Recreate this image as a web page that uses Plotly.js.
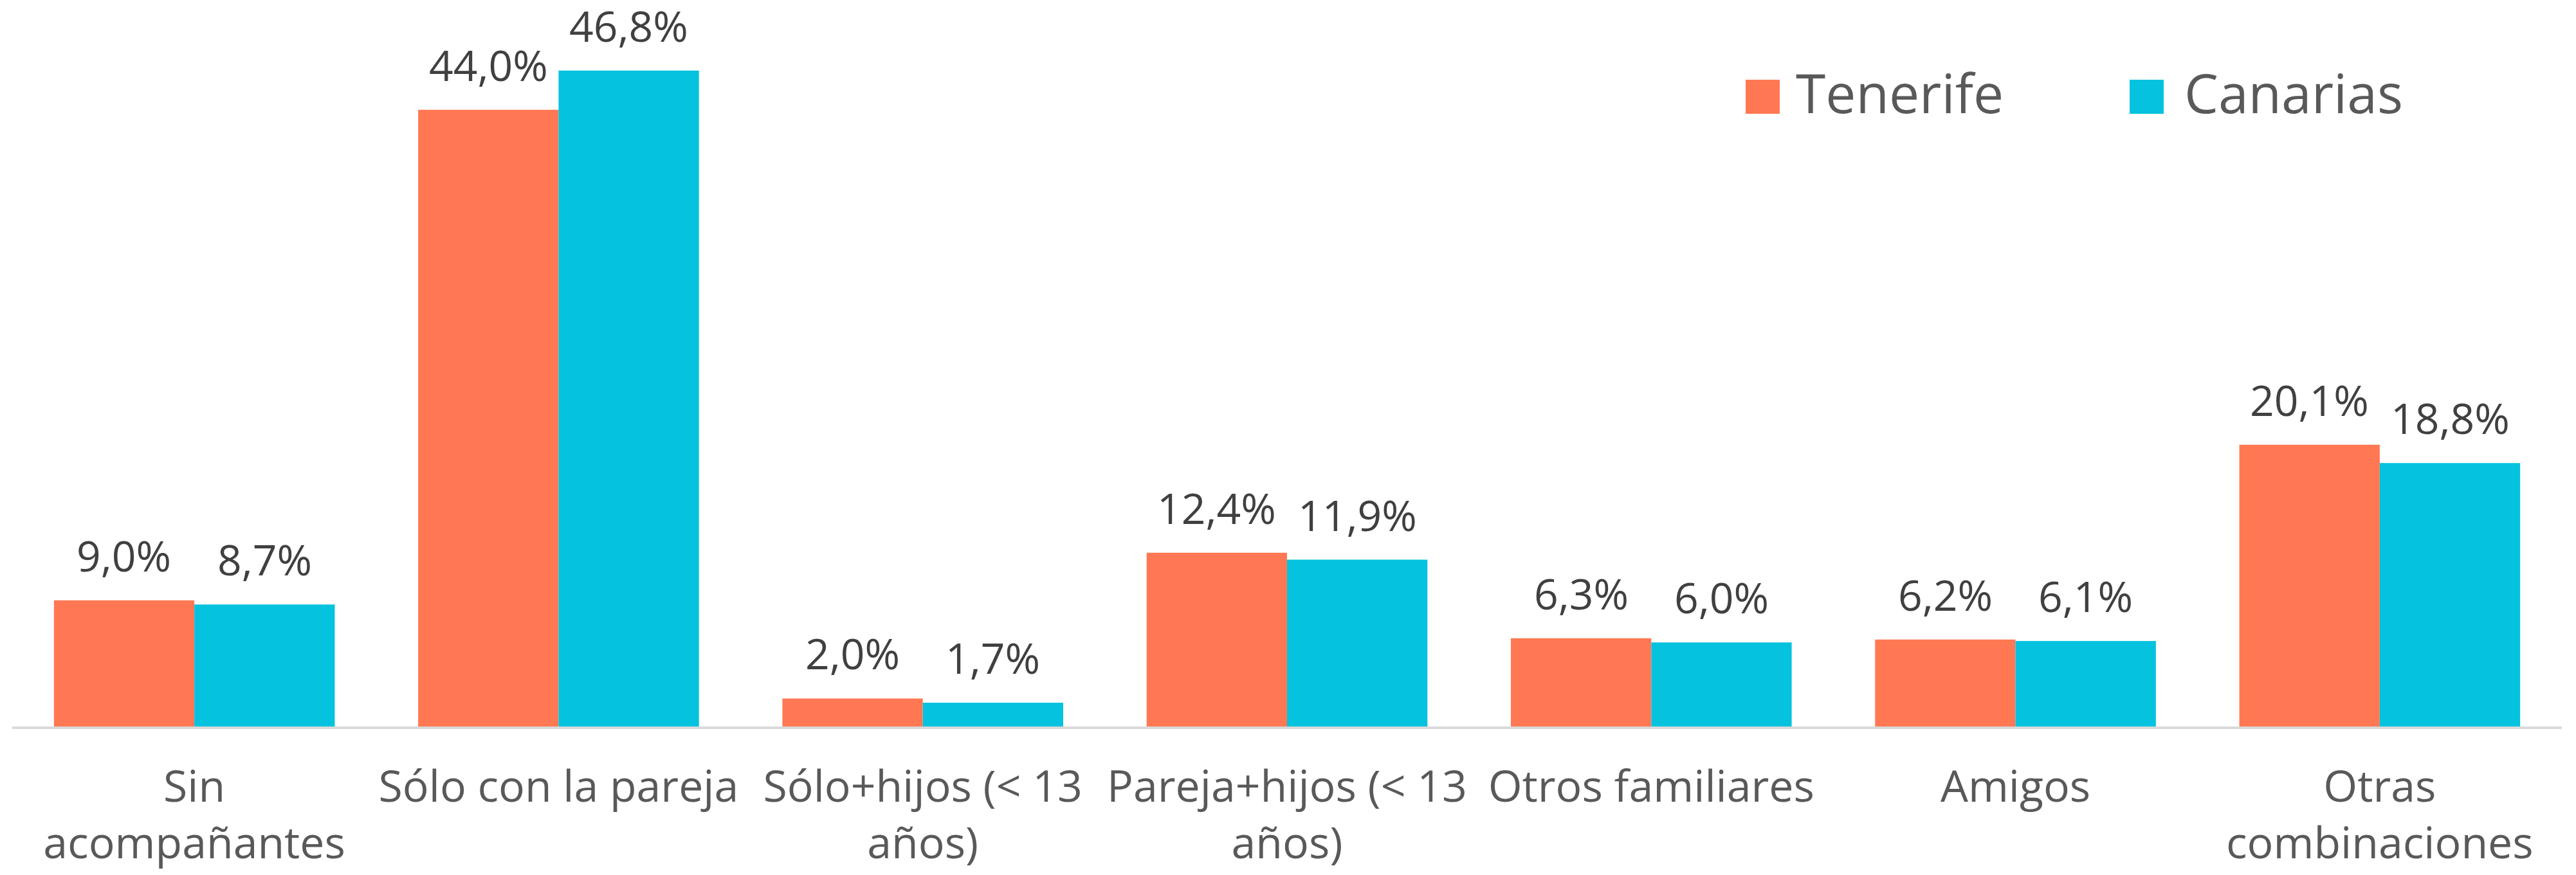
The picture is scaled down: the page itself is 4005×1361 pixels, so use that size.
<!DOCTYPE html>
<html>
<head>
<meta charset="utf-8">
<script src="https://cdn.plot.ly/plotly-3.0.1.min.js"></script>
<style>html,body{margin:0;padding:0;background:#fff;}#chart{width:4005px;height:1361px;}</style>
</head>
<body>
<div id="chart"></div>
<script>
// ---- data ----
const categories = ["Sin\nacompañantes", "Sólo con la pareja", "Sólo+hijos (< 13\naños)", "Pareja+hijos (< 13\naños)", "Otros familiares", "Amigos", "Otras\ncombinaciones"];
const seriesNames = ["Tenerife", "Canarias"];
const tenerife = [9.0, 44.0, 2.0, 12.4, 6.3, 6.2, 20.1];
const canarias = [8.7, 46.8, 1.7, 11.9, 6.0, 6.1, 18.8];
const colors = ["#FF7853", "#05C3DE"];

// ---- layout geometry (pixels) ----
const W = 4005, H = 1361;
const mL = 19, mR = 22, mT = 40, mB = 231;
const plotW = W - mL - mR, plotH = H - mT - mB;
const yMax = 50;

function esc(s){ return s.replace(/&/g,"&amp;").replace(/</g,"&lt;").replace(/>/g,"&gt;"); }
const tickText = categories.map(c => esc(c).replace(/\n/g, "<br>"));
const fmt = v => v.toFixed(1).replace(".", ",") + "%";

const seriesVals = [tenerife, canarias];
const traces = seriesVals.map((vals, i) => ({
  type: "bar",
  name: seriesNames[i],
  x: categories,
  y: vals,
  marker: {color: colors[i], line: {width: 0}},
  hoverinfo: "skip"
}));

// group width in px
const groupPx = plotW / categories.length;
const bargap = 0.229;
const barPx = groupPx * (1 - bargap) / 2;

const annotations = [];
seriesVals.forEach((vals, i) => {
  vals.forEach((v, j) => {
    annotations.push({
      x: categories[j], y: v, xref: "x", yref: "y",
      xshift: (i === 0 ? -1 : 1) * barPx / 2,
      yshift: 24,
      yanchor: "bottom", xanchor: "center",
      text: fmt(v), showarrow: false,
      font: {family: "Open Sans", size: 66, color: "#404040"}
    });
  });
});

// custom legend (pixel positions -> paper)
const px2x = p => (p - mL) / plotW;
const py2y = p => (H - mB - p) / plotH;
const legendItems = [
  {sq0: 2714, txt: 2790},
  {sq0: 3311, txt: 3394}
];
const shapes = [];
legendItems.forEach((it, i) => {
  shapes.push({
    type: "rect", xref: "paper", yref: "paper",
    x0: px2x(it.sq0), x1: px2x(it.sq0 + 53),
    y0: py2y(177), y1: py2y(124),
    fillcolor: colors[i], line: {width: 0}
  });
  annotations.push({
    xref: "paper", yref: "paper",
    x: px2x(it.txt), y: py2y(143),
    xanchor: "left", yanchor: "middle",
    text: seriesNames[i], showarrow: false,
    font: {family: "Open Sans", size: 84, color: "#595959"}
  });
});

const layout = {
  width: W, height: H,
  margin: {l: mL, r: mR, t: mT, b: mB, pad: 0},
  paper_bgcolor: "#ffffff", plot_bgcolor: "#ffffff",
  barmode: "group", bargap: bargap, bargroupgap: 0,
  showlegend: false,
  font: {family: "Open Sans", color: "#595959"},
  xaxis: {
    type: "category",
    tickvals: categories, ticktext: tickText,
    showline: true, linecolor: "#D9D9D9", linewidth: 4,
    ticks: "", showgrid: false, zeroline: false,
    tickfont: {family: "Open Sans", size: 68, color: "#595959"},
    ticklabelstandoff: 31,
    fixedrange: true
  },
  yaxis: {
    range: [0, yMax], visible: false, showgrid: false, zeroline: false, fixedrange: true
  },
  annotations: annotations,
  shapes: shapes
};

Plotly.newPlot("chart", traces, layout, {displayModeBar: false, staticPlot: true});
</script>
</body>
</html>
